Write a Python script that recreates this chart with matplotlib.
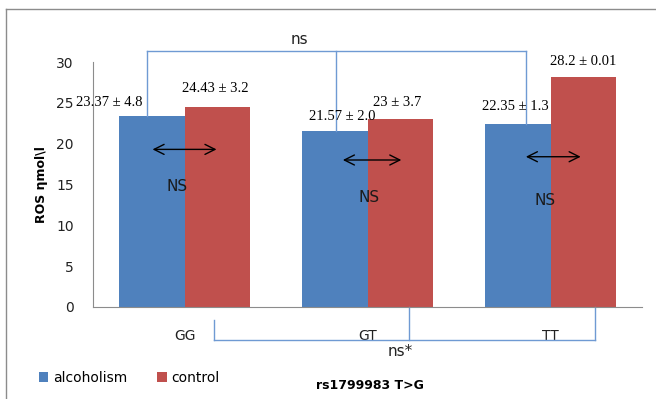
import numpy as np
import matplotlib
matplotlib.use("Agg")
import matplotlib.pyplot as plt
from matplotlib.lines import Line2D

genotypes = ["GG", "GT", "TT"]
alcoholism = [23.37, 21.57, 22.35]
control = [24.43, 23.0, 28.2]
alc_labels = ["23.37 ± 4.8", "21.57 ± 2.0", "22.35 ± 1.3"]
ctl_labels = ["24.43 ± 3.2", "23 ± 3.7", "28.2 ± 0.01"]
within_sig = ["NS", "NS", "NS"]

blue = "#4F81BD"
red = "#C0504D"
bracket = "#6F9AD3"

fig = plt.figure(figsize=(6.56, 3.99), dpi=100)
ax = fig.add_axes([0.1418, 0.2306, 0.8369, 0.614])

x = np.arange(len(genotypes))
w = 0.36
ax.bar(x - w / 2, alcoholism, w, color=blue, label="alcoholism")
ax.bar(x + w / 2, control, w, color=red, label="control")

ax.set_xlim(-0.5, 2.5)
ax.set_ylim(0, 30)
ax.set_yticks(range(0, 31, 5))
ax.set_xticks(x)
ax.set_xticklabels(genotypes)
ax.tick_params(length=0, labelsize=10, colors="#222222")
ax.tick_params(axis="y", pad=14)
ax.tick_params(axis="x", pad=16)
for s in ["top", "right"]:
    ax.spines[s].set_visible(False)
for s in ["left", "bottom"]:
    ax.spines[s].set_color("#8c8c8c")

# value labels
alc_pos = [(-0.41, 25.0), (0.86, 23.3), (1.81, 24.5)]
ctl_pos = [(0.17, 26.7), (1.16, 25.0), (2.18, 30.1)]
for (px, py), t in zip(alc_pos, alc_labels):
    ax.text(px, py, t, ha="center", va="center", fontsize=10.5,
            family="Liberation Serif", clip_on=False)
for (px, py), t in zip(ctl_pos, ctl_labels):
    ax.text(px, py, t, ha="center", va="center", fontsize=10.5,
            family="Liberation Serif", clip_on=False)

# within-genotype comparison arrows
arrow_y = [19.3, 18.0, 18.4]
arrow_x = [(-0.19, 0.19), (0.85, 1.2), (1.85, 2.18)]
ns_y = [14.8, 13.4, 13.1]
ns_x = [-0.04, 1.01, 1.97]
for i in range(3):
    ax.annotate("", xy=(arrow_x[i][1], arrow_y[i]), xytext=(arrow_x[i][0], arrow_y[i]),
                arrowprops=dict(arrowstyle="<->", color="black", lw=1,
                                mutation_scale=18))
    ax.text(ns_x[i], ns_y[i], within_sig[i], ha="center", va="center",
            fontsize=11, color="#1a1a1a")

# top bracket (alcoholism across genotypes)
top_y = 31.3
tx = [-0.207, 0.826, 1.864]
ax.add_line(Line2D([tx[0], tx[2]], [top_y, top_y], color=bracket, lw=1, clip_on=False))
ax.add_line(Line2D([tx[0], tx[0]], [alcoholism[0], top_y], color=bracket, lw=1, clip_on=False))
ax.add_line(Line2D([tx[1], tx[1]], [alcoholism[1], top_y], color=bracket, lw=1, clip_on=False))
ax.add_line(Line2D([tx[2], tx[2]], [alcoholism[2], top_y], color=bracket, lw=1, clip_on=False))
ax.text(0.63, 32.8, "ns", ha="center", va="center", fontsize=11, color="#222222")

# bottom bracket (control across genotypes)
bot_y = -4.0
bx = [0.163, 1.229, 2.245]
ax.add_line(Line2D([bx[0], bx[2]], [bot_y, bot_y], color=bracket, lw=1, clip_on=False))
ax.add_line(Line2D([bx[0], bx[0]], [-1.6, bot_y], color=bracket, lw=1, clip_on=False))
ax.add_line(Line2D([bx[1], bx[1]], [0, bot_y], color=bracket, lw=1, clip_on=False))
ax.add_line(Line2D([bx[2], bx[2]], [0, bot_y], color=bracket, lw=1, clip_on=False))
ax.text(1.18, -5.5, "ns*", ha="center", va="center", fontsize=11, color="#222222")

ax.set_ylabel("ROS ηmol\\l", fontsize=9, fontweight="bold", labelpad=6)
fig.text(0.564, 0.033, "rs1799983 T>G", ha="center", va="center",
         fontsize=9, fontweight="bold")

fig.legend(loc="center left", bbox_to_anchor=(0.04, 0.053), ncol=2, frameon=False,
           fontsize=10, handlelength=0.7, handleheight=0.7, handletextpad=0.3,
           columnspacing=2.2)

# outer chart border
fig.add_artist(Line2D([6 / 656, 1], [1 - 9 / 399, 1 - 9 / 399], color="#8c8c8c", lw=1))
fig.add_artist(Line2D([6 / 656, 6 / 656], [0, 1 - 9 / 399], color="#8c8c8c", lw=1))

fig.savefig("out.png", dpi=100)
